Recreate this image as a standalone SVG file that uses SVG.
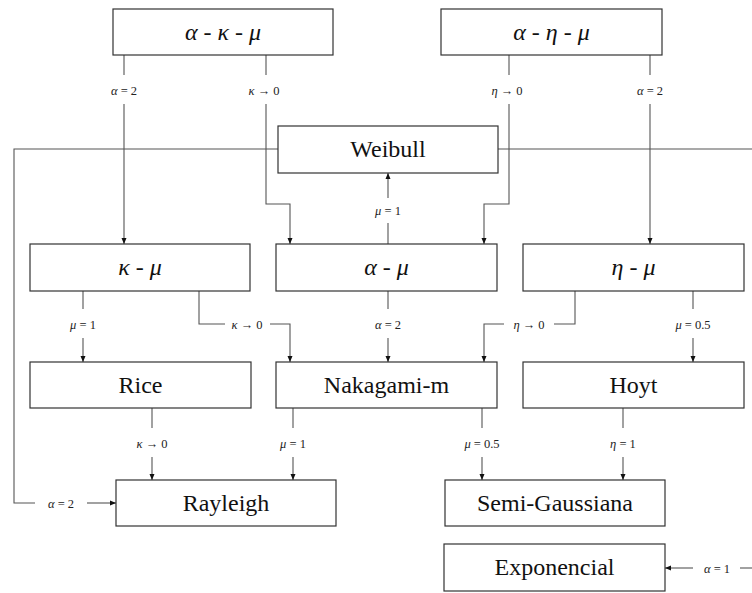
<svg xmlns="http://www.w3.org/2000/svg" width="752" height="593" viewBox="0 0 752 593">
<style>
.box{fill:#fff;stroke:#333;stroke-width:1.2}
.t{font-size:24px;fill:#111;text-anchor:middle}
.g{font-style:italic}
.c{fill:none;stroke:#555;stroke-width:1.1}
.l{font-size:12.5px;fill:#222;text-anchor:middle}
</style>
<defs>
<marker id="ah" markerUnits="userSpaceOnUse" markerWidth="7" markerHeight="6" refX="6" refY="3" orient="auto">
<path d="M0,0.5 L6,3 L0,5.5 z" fill="#111"/>
</marker>
</defs>
<rect width="752" height="593" fill="#fff"/>
<g id="connectors" font-family="'Liberation Serif', 'DejaVu Serif', serif">
<path class="c" d="M124,55 V75 M266,55 V75 M509,55 V75 M650,55 V75"/>
<path class="c" d="M124,104 V244" marker-end="url(#ah)"/>
<path class="c" d="M266,104 V204 H290 V244" marker-end="url(#ah)"/>
<path class="c" d="M509,104 V204 H484 V244" marker-end="url(#ah)"/>
<path class="c" d="M650,104 V244" marker-end="url(#ah)"/>
<path class="c" d="M388,244 V223"/>
<path class="c" d="M388,198 V173" marker-end="url(#ah)"/>
<path class="c" d="M278,149 H14 V503 H35"/>
<path class="c" d="M87,503 H116" marker-end="url(#ah)"/>
<path class="c" d="M498,149 H752"/>
<path class="c" d="M752,568 H740"/>
<path class="c" d="M693,568 H665" marker-end="url(#ah)"/>
<path class="c" d="M83,291 V309 M388,291 V309 M693,291 V309"/>
<path class="c" d="M83,338 V362" marker-end="url(#ah)"/>
<path class="c" d="M388,338 V362" marker-end="url(#ah)"/>
<path class="c" d="M693,338 V362" marker-end="url(#ah)"/>
<path class="c" d="M199,291 V324 H225"/>
<path class="c" d="M270,324 H290 V362" marker-end="url(#ah)"/>
<path class="c" d="M575,291 V324 H554"/>
<path class="c" d="M504,324 H484 V362" marker-end="url(#ah)"/>
<path class="c" d="M152,408 V428 M293,408 V428 M482,408 V428 M623,408 V428"/>
<path class="c" d="M152,457 V480" marker-end="url(#ah)"/>
<path class="c" d="M293,457 V480" marker-end="url(#ah)"/>
<path class="c" d="M482,457 V480" marker-end="url(#ah)"/>
<path class="c" d="M623,457 V480" marker-end="url(#ah)"/>
<text class="l" x="124" y="94.5"><tspan class="g">α</tspan> = 2</text>
<text class="l" x="264" y="94.5"><tspan class="g">κ</tspan> → 0</text>
<text class="l" x="507" y="94.5"><tspan class="g">η</tspan> → 0</text>
<text class="l" x="650" y="94.5"><tspan class="g">α</tspan> = 2</text>
<text class="l" x="388" y="214.5"><tspan class="g">μ</tspan> = 1</text>
<text class="l" x="61" y="507.5"><tspan class="g">α</tspan> = 2</text>
<text class="l" x="717" y="572.5"><tspan class="g">α</tspan> = 1</text>
<text class="l" x="83" y="328.5"><tspan class="g">μ</tspan> = 1</text>
<text class="l" x="247" y="328.5"><tspan class="g">κ</tspan> → 0</text>
<text class="l" x="388" y="328.5"><tspan class="g">α</tspan> = 2</text>
<text class="l" x="529" y="328.5"><tspan class="g">η</tspan> → 0</text>
<text class="l" x="693" y="328.5"><tspan class="g">μ</tspan> = 0.5</text>
<text class="l" x="152" y="447.5"><tspan class="g">κ</tspan> → 0</text>
<text class="l" x="293" y="447.5"><tspan class="g">μ</tspan> = 1</text>
<text class="l" x="482" y="447.5"><tspan class="g">μ</tspan> = 0.5</text>
<text class="l" x="623" y="447.5"><tspan class="g">η</tspan> = 1</text>
</g>
<g font-family="'Liberation Serif', 'DejaVu Serif', serif">
<g id="akm"><rect class="box" x="113" y="9" width="220" height="46"/><text class="t" x="223" y="39.5"><tspan class="g">α</tspan> - <tspan class="g">κ</tspan> - <tspan class="g">μ</tspan></text></g>
<g id="aem"><rect class="box" x="441" y="9" width="221" height="46"/><text class="t" x="551.5" y="39.5"><tspan class="g">α</tspan> - <tspan class="g">η</tspan> - <tspan class="g">μ</tspan></text></g>
<g id="weibull"><rect class="box" x="278" y="126" width="220" height="47"/><text class="t" x="388" y="157">Weibull</text></g>
<g id="km"><rect class="box" x="30" y="244" width="220" height="47"/><text class="t" x="140" y="274.5"><tspan class="g">κ</tspan> - <tspan class="g">μ</tspan></text></g>
<g id="am"><rect class="box" x="276" y="244" width="221" height="47"/><text class="t" x="386.5" y="274.5"><tspan class="g">α</tspan> - <tspan class="g">μ</tspan></text></g>
<g id="em"><rect class="box" x="523" y="244" width="221" height="47"/><text class="t" x="633.5" y="274.5"><tspan class="g">η</tspan> - <tspan class="g">μ</tspan></text></g>
<g id="rice"><rect class="box" x="30" y="362" width="221" height="46"/><text class="t" x="140.5" y="392.5">Rice</text></g>
<g id="nakagami"><rect class="box" x="276" y="362" width="221" height="46"/><text class="t" x="386.5" y="392.5">Nakagami-m</text></g>
<g id="hoyt"><rect class="box" x="523" y="362" width="221" height="46"/><text class="t" x="633.5" y="392.5">Hoyt</text></g>
<g id="rayleigh"><rect class="box" x="116" y="480" width="220" height="46"/><text class="t" x="226" y="510.5">Rayleigh</text></g>
<g id="semigauss"><rect class="box" x="445" y="480" width="220" height="46"/><text class="t" x="555" y="510.5">Semi-Gaussiana</text></g>
<g id="exponencial"><rect class="box" x="444" y="544" width="221" height="47"/><text class="t" x="554.5" y="575">Exponencial</text></g>
</g>
</svg>
